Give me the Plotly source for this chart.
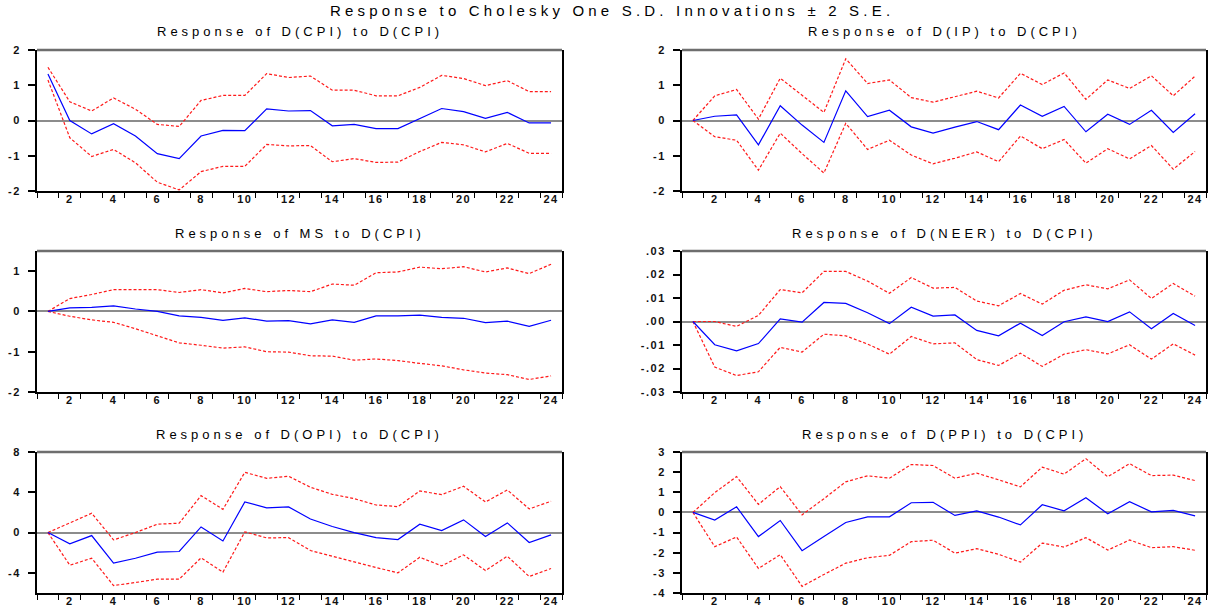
import plotly.graph_objects as go

# Impulse-response horizons
periods = list(range(1, 25))
x_tick_vals = [p for p in periods if p % 2 == 0]
x_tick_labels = [str(p) for p in x_tick_vals]

main_title = "Response to Cholesky One S.D. Innovations ± 2 S.E."
panel_titles = [
    "Response of D(CPI) to D(CPI)",
    "Response of D(IP) to D(CPI)",
    "Response of MS to D(CPI)",
    "Response of D(NEER) to D(CPI)",
    "Response of D(OPI) to D(CPI)",
    "Response of D(PPI) to D(CPI)",
]

# D(CPI)
cpi_resp = [1.32, 0.00, -0.38, -0.09, -0.44, -0.94, -1.08, -0.44, -0.28, -0.29, 0.33, 0.27,
            0.28, -0.15, -0.11, -0.23, -0.23, 0.06, 0.34, 0.25, 0.06, 0.23, -0.07, -0.07]
cpi_upper = [1.51, 0.53, 0.27, 0.64, 0.32, -0.11, -0.17, 0.57, 0.71, 0.71, 1.33, 1.22,
             1.26, 0.86, 0.86, 0.70, 0.70, 0.94, 1.28, 1.19, 0.99, 1.13, 0.82, 0.82]
cpi_lower = [1.15, -0.49, -1.02, -0.82, -1.20, -1.75, -1.97, -1.45, -1.30, -1.30, -0.68, -0.72,
             -0.71, -1.17, -1.08, -1.19, -1.18, -0.88, -0.62, -0.69, -0.89, -0.65, -0.93, -0.93]

# D(IP)
ip_resp = [0.00, 0.12, 0.16, -0.69, 0.42, -0.13, -0.62, 0.84, 0.11, 0.29, -0.18, -0.36,
           -0.19, -0.03, -0.26, 0.44, 0.12, 0.40, -0.32, 0.18, -0.11, 0.29, -0.34, 0.19]
ip_upper = [0.00, 0.70, 0.88, 0.04, 1.20, 0.71, 0.23, 1.75, 1.05, 1.15, 0.65, 0.52,
            0.67, 0.83, 0.64, 1.34, 1.02, 1.35, 0.60, 1.15, 0.91, 1.27, 0.70, 1.26]
ip_lower = [0.00, -0.46, -0.56, -1.41, -0.36, -0.94, -1.49, -0.08, -0.82, -0.56, -0.98, -1.23,
            -1.07, -0.89, -1.17, -0.44, -0.80, -0.54, -1.21, -0.80, -1.09, -0.71, -1.38, -0.88]

# MS
ms_resp = [0.00, 0.09, 0.10, 0.14, 0.06, 0.00, -0.11, -0.15, -0.22, -0.16, -0.24, -0.23,
           -0.31, -0.21, -0.27, -0.11, -0.11, -0.09, -0.15, -0.17, -0.28, -0.24, -0.37, -0.22]
ms_upper = [0.00, 0.32, 0.42, 0.54, 0.54, 0.54, 0.47, 0.54, 0.46, 0.57, 0.49, 0.52,
            0.49, 0.68, 0.65, 0.96, 0.98, 1.10, 1.06, 1.11, 0.98, 1.08, 0.94, 1.17]
ms_lower = [0.00, -0.12, -0.21, -0.27, -0.43, -0.61, -0.78, -0.84, -0.91, -0.88, -1.00, -1.01,
            -1.10, -1.11, -1.21, -1.18, -1.22, -1.29, -1.35, -1.45, -1.53, -1.57, -1.69, -1.60]

# D(NEER)
neer_resp = [0.0, -0.0099, -0.0125, -0.0094, 0.0011, -0.0003, 0.0081, 0.0077, 0.0037, -0.0009, 0.0061, 0.0023,
             0.0028, -0.0038, -0.0061, -0.0007, -0.0060, -0.0001, 0.0020, 0.0000, 0.0041, -0.0031, 0.0034, -0.0017]
neer_upper = [0.0, 0.0000, -0.0021, 0.0026, 0.0136, 0.0122, 0.0213, 0.0213, 0.0172, 0.0120, 0.0187, 0.0142,
              0.0145, 0.0087, 0.0067, 0.0119, 0.0074, 0.0133, 0.0156, 0.0139, 0.0177, 0.0098, 0.0162, 0.0108]
neer_lower = [0.0, -0.0194, -0.0230, -0.0214, -0.0110, -0.0130, -0.0054, -0.0061, -0.0096, -0.0139, -0.0064, -0.0095,
              -0.0091, -0.0162, -0.0187, -0.0135, -0.0191, -0.0139, -0.0120, -0.0138, -0.0099, -0.0160, -0.0095, -0.0143]

# D(OPI)
opi_resp = [0.00, -1.12, -0.30, -3.04, -2.55, -1.95, -1.88, 0.56, -0.83, 3.04, 2.45, 2.55,
            1.35, 0.60, 0.00, -0.50, -0.69, 0.83, 0.20, 1.26, -0.40, 0.96, -0.99, -0.23]
opi_upper = [0.00, 0.93, 1.92, -0.73, 0.00, 0.83, 0.93, 3.67, 2.31, 5.98, 5.39, 5.59,
             4.50, 3.80, 3.37, 2.74, 2.58, 4.13, 3.77, 4.60, 3.04, 4.23, 2.35, 3.11]
opi_lower = [0.00, -3.24, -2.55, -5.26, -4.96, -4.63, -4.63, -2.51, -3.93, 0.07, -0.53, -0.50,
             -1.78, -2.38, -2.91, -3.47, -4.00, -2.45, -3.31, -2.21, -3.77, -2.35, -4.36, -3.57]

# D(PPI)
ppi_resp = [0.00, -0.38, 0.28, -1.20, -0.40, -1.90, -1.20, -0.50, -0.22, -0.22, 0.48, 0.50,
            -0.15, 0.08, -0.23, -0.62, 0.38, 0.08, 0.73, -0.07, 0.53, 0.03, 0.10, -0.17]
ppi_upper = [0.00, 0.98, 1.78, 0.40, 1.28, -0.12, 0.68, 1.52, 1.82, 1.70, 2.38, 2.33,
             1.70, 1.95, 1.62, 1.27, 2.25, 1.90, 2.67, 1.77, 2.42, 1.83, 1.85, 1.58]
ppi_lower = [0.00, -1.70, -1.22, -2.78, -2.10, -3.67, -3.08, -2.52, -2.25, -2.13, -1.45, -1.38,
             -2.02, -1.80, -2.08, -2.47, -1.52, -1.72, -1.25, -1.87, -1.37, -1.75, -1.70, -1.88]

# Y-axis ticks per panel
unit_ticks = [-2, -1, 0, 1, 2]
unit_labels = ["-2", "-1", "0", "1", "2"]
ms_ticks = [-2, -1, 0, 1]
ms_labels = ["-2", "-1", "0", "1"]
neer_ticks = [-0.03, -0.02, -0.01, 0.0, 0.01, 0.02, 0.03]
neer_labels = ["-.03", "-.02", "-.01", ".00", ".01", ".02", ".03"]
opi_ticks = [-4, 0, 4, 8]
opi_labels = ["-4", "0", "4", "8"]
ppi_ticks = [-4, -3, -2, -1, 0, 1, 2, 3]
ppi_labels = ["-4", "-3", "-2", "-1", "0", "1", "2", "3"]

responses = [cpi_resp, ip_resp, ms_resp, neer_resp, opi_resp, ppi_resp]
uppers = [cpi_upper, ip_upper, ms_upper, neer_upper, opi_upper, ppi_upper]
lowers = [cpi_lower, ip_lower, ms_lower, neer_lower, opi_lower, ppi_lower]
y_ranges = [[-2, 2], [-2, 2], [-2, 1.5], [-0.03, 0.03], [-6, 8], [-4, 3]]
y_tick_vals = [unit_ticks, unit_ticks, ms_ticks, neer_ticks, opi_ticks, ppi_ticks]
y_tick_labels = [unit_labels, unit_labels, ms_labels, neer_labels, opi_labels, ppi_labels]

W, H = 1217, 610
col_px = [(37, 562), (682, 1206)]
row_px = [(50, 191), (251, 392), (452, 593)]
title_px = [31, 233, 434]

FONT = "Liberation Sans, Arial, sans-serif"


def spaced(text, px):
    return f'<span style="letter-spacing:{px}px">{text}</span>'


fig = go.Figure()
layout = dict(
    width=W, height=H,
    margin=dict(l=0, r=0, t=0, b=0),
    paper_bgcolor="white", plot_bgcolor="white",
    showlegend=False,
    template="none",
    font=dict(family=FONT, color="black"),
    annotations=[], shapes=[],
)

for i in range(6):
    n = i + 1
    r, c = divmod(i, 2)
    xs = "x" if n == 1 else f"x{n}"
    ys = "y" if n == 1 else f"y{n}"
    xa = "xaxis" if n == 1 else f"xaxis{n}"
    ya = "yaxis" if n == 1 else f"yaxis{n}"
    x0, x1 = col_px[c]
    top, bot = row_px[r]

    layout[xa] = dict(
        domain=[x0 / W, x1 / W], anchor=ys, range=[0.5, 24.5],
        tickmode="array", tickvals=x_tick_vals,
        ticktext=[spaced(t, 1.5) for t in x_tick_labels],
        ticks="", ticklabelstandoff=-3,
        minor=dict(ticks="outside", tick0=0.5, dtick=1, ticklen=5, tickwidth=1.2, tickcolor="black"),
        showgrid=False, zeroline=False, automargin=False,
        showline=True, linecolor="black", linewidth=2, mirror=False,
        tickfont=dict(family=FONT, size=11, color="#111", weight="bold"),
    )
    layout[ya] = dict(
        domain=[1 - bot / H, 1 - top / H], anchor=xs, range=y_ranges[i],
        tickmode="array", tickvals=y_tick_vals[i],
        ticktext=[spaced(t, 1.5) for t in y_tick_labels[i]],
        ticks="outside", ticklen=7, tickwidth=1.5, tickcolor="black",
        ticklabelstandoff=5,
        showgrid=False, automargin=False,
        zeroline=True, zerolinecolor="#8c8c8c", zerolinewidth=2,
        showline=True, linecolor="black", linewidth=2, mirror=True,
        tickfont=dict(family=FONT, size=11, color="#111", weight="bold"),
    )

    # frame top edge
    layout["shapes"].append(dict(
        type="line", xref=f"{xs} domain", yref=f"{ys} domain",
        x0=0, x1=1, y0=1, y1=1, line=dict(color="#6e6e6e", width=2.5), layer="above",
    ))

    layout["annotations"].append(dict(
        text=spaced(panel_titles[i], 4), xref=f"{xs} domain", yref="paper",
        x=0.5, y=1 - title_px[r] / H, xanchor="center", yanchor="middle",
        showarrow=False, font=dict(family=FONT, size=13, color="black"),
    ))

    for band in (lowers[i], uppers[i]):
        fig.add_trace(go.Scatter(
            x=periods, y=band, mode="lines", xaxis=xs, yaxis=ys,
            line=dict(color="#ff1a1a", width=1.2, dash="3px,2px"),
        ))
    fig.add_trace(go.Scatter(
        x=periods, y=responses[i], mode="lines", xaxis=xs, yaxis=ys,
        line=dict(color="#0000ff", width=1.2),
    ))

layout["annotations"].append(dict(
    text=spaced(main_title, 4.2), xref="paper", yref="paper",
    x=612 / W, y=1 - 10 / H, xanchor="center", yanchor="middle",
    showarrow=False, font=dict(family=FONT, size=15, color="black"),
))

fig.update_layout(**layout)
fig.write_html("out.html")
